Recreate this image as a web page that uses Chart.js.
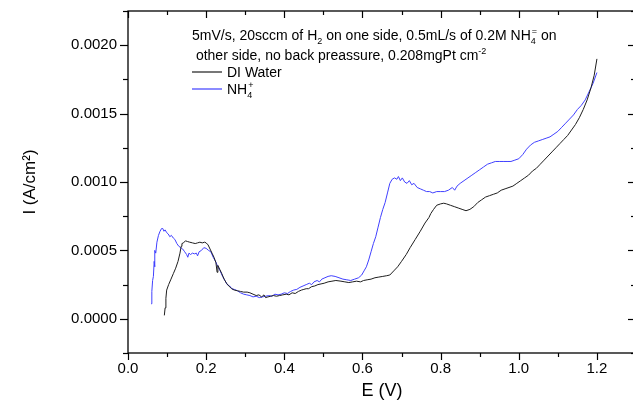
<!DOCTYPE html>
<html>
<head>
<meta charset="utf-8">
<script src="https://cdn.jsdelivr.net/npm/chart.js@4.4.0/dist/chart.umd.min.js"></script>
<style>
  html, body { margin: 0; padding: 0; background: #fff; overflow: hidden; width: 633px; height: 402px; }
  canvas { display: block; }
</style>
</head>
<body>
<canvas id="c" width="640" height="402"></canvas>
<script>
// Polarisation scans, potential E (V) vs current density I (A/cm2)
const waterE = [0.093,0.095,0.097,0.099,0.104,0.110,0.116,0.122,0.128,0.133,0.136,0.138,0.142,0.147,0.152,0.158,0.165,0.172,0.178,0.184,0.190,0.196,0.200,0.205,0.210,0.215,0.220,0.225,0.228,0.230,0.235,0.240,0.246,0.252,0.258,0.265,0.272,0.280,0.288,0.296,0.305,0.312,0.320,0.328,0.335,0.342,0.348,0.352,0.358,0.365,0.372,0.380,0.388,0.396,0.405,0.412,0.420,0.428,0.436,0.444,0.450,0.456,0.462,0.470,0.478,0.486,0.494,0.502,0.512,0.522,0.532,0.545,0.555,0.565,0.575,0.585,0.595,0.603,0.612,0.622,0.632,0.642,0.652,0.662,0.670,0.680,0.690,0.700,0.712,0.722,0.735,0.748,0.760,0.770,0.775,0.782,0.790,0.800,0.808,0.815,0.825,0.835,0.845,0.855,0.865,0.875,0.885,0.895,0.905,0.915,0.925,0.935,0.945,0.955,0.965,0.975,0.985,0.995,1.005,1.015,1.025,1.035,1.045,1.055,1.065,1.075,1.085,1.095,1.105,1.115,1.125,1.135,1.145,1.155,1.165,1.175,1.185,1.193,1.200];
const waterI = [0.000025,0.00008,0.00015,0.00021,0.00025,0.00029,0.00033,0.00037,0.00042,0.00048,0.00053,0.00055,0.000555,0.00057,0.000565,0.00056,0.000555,0.00055,0.000555,0.00056,0.000555,0.00056,0.000555,0.00054,0.00051,0.00048,0.00045,0.00041,0.00034,0.00039,0.00036,0.00033,0.00029,0.00026,0.00024,0.00022,0.00021,0.000205,0.0002,0.000195,0.000195,0.00019,0.00018,0.00017,0.000175,0.00016,0.000175,0.000155,0.00016,0.000165,0.00017,0.000165,0.00017,0.000175,0.00018,0.000175,0.00019,0.000185,0.0002,0.00021,0.000215,0.00022,0.00022,0.000235,0.00024,0.00025,0.000255,0.00026,0.00027,0.000275,0.00028,0.000275,0.00027,0.000265,0.00027,0.000275,0.00027,0.00028,0.000285,0.00029,0.0003,0.000305,0.00031,0.000315,0.00032,0.00035,0.00038,0.00042,0.00047,0.00052,0.00058,0.00064,0.0007,0.00074,0.00077,0.0008,0.00083,0.00084,0.000845,0.00084,0.00083,0.00082,0.00081,0.0008,0.00079,0.0008,0.00082,0.00085,0.00087,0.00089,0.0009,0.00091,0.00092,0.00094,0.00095,0.00096,0.00097,0.00099,0.00101,0.00103,0.00105,0.00108,0.0011,0.00113,0.00116,0.00119,0.00122,0.00125,0.00128,0.00131,0.00134,0.00138,0.00142,0.00147,0.00153,0.0016,0.00169,0.00178,0.0019];

const nh4E = [0.059,0.061,0.063,0.065,0.067,0.068,0.069,0.071,0.074,0.078,0.082,0.086,0.089,0.092,0.095,0.099,0.103,0.107,0.111,0.116,0.120,0.125,0.130,0.135,0.140,0.145,0.150,0.153,0.156,0.160,0.165,0.170,0.175,0.178,0.182,0.188,0.194,0.200,0.206,0.212,0.218,0.224,0.230,0.236,0.242,0.248,0.254,0.260,0.266,0.272,0.280,0.288,0.296,0.304,0.312,0.320,0.328,0.336,0.344,0.352,0.360,0.368,0.376,0.384,0.392,0.400,0.408,0.416,0.424,0.432,0.440,0.448,0.456,0.464,0.470,0.476,0.484,0.490,0.496,0.504,0.512,0.520,0.530,0.540,0.550,0.560,0.570,0.580,0.590,0.598,0.604,0.610,0.616,0.622,0.628,0.634,0.640,0.646,0.652,0.658,0.664,0.670,0.676,0.682,0.688,0.692,0.697,0.702,0.708,0.714,0.720,0.726,0.732,0.740,0.748,0.756,0.764,0.772,0.780,0.790,0.800,0.810,0.820,0.830,0.836,0.842,0.850,0.860,0.870,0.880,0.890,0.900,0.910,0.920,0.930,0.940,0.950,0.960,0.970,0.980,0.990,1.000,1.010,1.020,1.030,1.040,1.050,1.060,1.070,1.080,1.090,1.100,1.110,1.120,1.130,1.140,1.150,1.160,1.170,1.180,1.190,1.200];
const nh4I = [0.00011,0.0002,0.00028,0.00031,0.00042,0.00038,0.0005,0.00048,0.00056,0.00061,0.00064,0.00066,0.00066,0.00064,0.00065,0.00063,0.00062,0.0006,0.00061,0.00059,0.00058,0.00055,0.00053,0.00052,0.00051,0.00049,0.00047,0.00045,0.00048,0.00047,0.00048,0.000475,0.00048,0.00046,0.00049,0.0005,0.00052,0.000515,0.0005,0.00049,0.00045,0.00042,0.00038,0.00035,0.00031,0.00028,0.00025,0.00024,0.00022,0.000215,0.000205,0.00019,0.00018,0.000175,0.00017,0.00016,0.000165,0.000155,0.00016,0.000165,0.00017,0.000165,0.00018,0.000175,0.00018,0.00019,0.000185,0.0002,0.00021,0.000215,0.00023,0.00024,0.00025,0.00026,0.00025,0.00027,0.00028,0.00027,0.00029,0.0003,0.00031,0.000315,0.00031,0.0003,0.00029,0.000285,0.00028,0.00029,0.0003,0.00032,0.00035,0.00038,0.00043,0.00049,0.00055,0.0006,0.00067,0.00074,0.0008,0.00085,0.00092,0.00099,0.00102,0.00103,0.00102,0.00104,0.00101,0.00103,0.001,0.00099,0.00101,0.00098,0.00099,0.00096,0.00095,0.00094,0.00093,0.00093,0.00092,0.00093,0.00093,0.00093,0.00094,0.00096,0.00094,0.00097,0.00099,0.00101,0.00103,0.00105,0.00107,0.00109,0.00111,0.00113,0.00114,0.00115,0.00115,0.00115,0.00115,0.00115,0.00116,0.00117,0.0012,0.00124,0.00127,0.00129,0.0013,0.00131,0.00132,0.00133,0.00135,0.00137,0.0014,0.00143,0.00146,0.00149,0.00153,0.00156,0.0016,0.00166,0.00172,0.0018];

const seriesNames = ['DI Water', 'NH4+'];
const xTickLabels = [0, 0.2, 0.4, 0.6, 0.8, 1.0, 1.2];
const yTickLabels = [0, 0.0005, 0.001, 0.0015, 0.002];

const FONT = '"Liberation Sans", Arial, sans-serif';
const INK = '#000';
const WATER_COLOR = 'rgb(30,30,30)';
const NH4_COLOR = 'rgb(64,64,255)';

// Text with subscript / superscript runs; a run is a string or [text, mode]
// mode: 'b' subscript, 'p' superscript, 'bp' stacked [sub, 'bp', sup]
function drawRich(ctx, runs, x, y, size) {
  let cx = x;
  const small = Math.round(size * 0.62);
  ctx.textBaseline = 'alphabetic';
  ctx.textAlign = 'left';
  for (const r of runs) {
    if (typeof r === 'string') {
      ctx.font = size + 'px ' + FONT;
      ctx.fillText(r, cx, y);
      cx += ctx.measureText(r).width;
    } else if (r[1] === 'bp') {
      ctx.font = small + 'px ' + FONT;
      ctx.fillText(r[0], cx, y + size * 0.3);
      ctx.fillText(r[2], cx + 1, y - size * 0.42);
      cx += Math.max(ctx.measureText(r[0]).width, ctx.measureText(r[2]).width + 1);
    } else {
      ctx.font = small + 'px ' + FONT;
      const dy = r[1] === 'b' ? size * 0.3 : -size * 0.42;
      ctx.fillText(r[0], cx, y + dy);
      cx += ctx.measureText(r[0]).width;
    }
  }
}

// Frame, mirrored ticks, annotation and key
const framePlugin = {
  id: 'frame',
  afterDatasetsDraw(chart) {
    const { ctx, chartArea: a, scales: { x, y } } = chart;
    ctx.save();
    ctx.strokeStyle = INK;
    ctx.lineWidth = 1.3;
    ctx.strokeRect(a.left, a.top, a.right - a.left, a.bottom - a.top);
    ctx.lineWidth = 1.2;
    const seg = (x1, y1, x2, y2) => { ctx.beginPath(); ctx.moveTo(x1, y1); ctx.lineTo(x2, y2); ctx.stroke(); };
    // potential axis: major every 0.2, minor between
    for (let k = 0; k <= 13; k++) {
      const px = Math.round(x.getPixelForValue(k / 10)) + 0.5;
      const L = k % 2 === 0 ? 7 : 4;
      seg(px, a.bottom, px, a.bottom + L);
      seg(px, a.top, px, a.top + L);
    }
    // current axis: major every 0.0005, minor between
    for (let k = -1; k <= 9; k++) {
      const py = Math.round(y.getPixelForValue(k * 0.00025)) + 0.5;
      const L = k % 2 === 0 ? 8 : 5;
      seg(a.left - L, py, a.left, py);
      seg(a.right - L, py, a.right, py);
    }
    ctx.restore();

    const tx = a.left + 64;
    ctx.save();
    ctx.fillStyle = INK;
    drawRich(ctx, ['5mV/s, 20sccm of H', ['2', 'b'], ' on one side, 0.5mL/s of 0.2M NH', ['4', 'bp', '='], ' on'], tx, a.top + 29, 14);
    drawRich(ctx, [' other side, no back preassure, 0.208mgPt cm', ['-2', 'p']], tx, a.top + 49, 14);
    ctx.restore();

    const keys = [
      { color: WATER_COLOR, runs: [seriesNames[0]], y: a.top + 61 },
      { color: NH4_COLOR, runs: ['NH', ['4', 'bp', '+']], y: a.top + 78 }
    ];
    for (const k of keys) {
      ctx.save();
      ctx.fillStyle = k.color;
      ctx.fillRect(tx, k.y - 0.6, 30, 1.2);
      ctx.restore();
      ctx.save();
      ctx.fillStyle = INK;
      drawRich(ctx, k.runs, tx + 35, k.y + 5, 14);
      ctx.restore();
    }
  }
};

const toPoints = (xs, ys) => xs.map((v, i) => ({ x: v, y: ys[i] }));

new Chart(document.getElementById('c'), {
  type: 'scatter',
  data: {
    datasets: [
      { label: seriesNames[0], data: toPoints(waterE, waterI), showLine: true, borderColor: WATER_COLOR, backgroundColor: WATER_COLOR, borderWidth: 1, pointRadius: 0, tension: 0 },
      { label: seriesNames[1], data: toPoints(nh4E, nh4I), showLine: true, borderColor: NH4_COLOR, backgroundColor: NH4_COLOR, borderWidth: 1, pointRadius: 0, tension: 0 }
    ]
  },
  options: {
    responsive: false,
    animation: false,
    devicePixelRatio: 1,
    layout: { padding: { top: 11, right: 4, left: 0, bottom: 0 } },
    plugins: { legend: { display: false }, tooltip: { enabled: false } },
    scales: {
      x: {
        type: 'linear', min: 0, max: 1.3,
        afterBuildTicks: s => { s.ticks = xTickLabels.map(v => ({ value: v })); },
        afterFit: s => { s.height = 49; s.paddingLeft = 0; s.paddingRight = 0; },
        grid: { display: false, drawTicks: false },
        border: { display: false },
        ticks: { padding: 7, color: INK, font: { family: FONT, size: 15 }, maxRotation: 0, callback: v => v.toFixed(1) },
        title: { display: true, text: 'E (V)', color: INK, font: { family: FONT, size: 18 }, padding: 0 }
      },
      y: {
        type: 'linear', min: -0.00025, max: 0.00225,
        afterBuildTicks: s => { s.ticks = yTickLabels.map(v => ({ value: v })); },
        afterFit: s => { s.width = 128; s.paddingTop = 0; s.paddingBottom = 0; },
        grid: { display: false, drawTicks: false },
        border: { display: false },
        ticks: { padding: 11, color: INK, font: { family: FONT, size: 15 }, callback: v => v.toFixed(4) },
        title: { display: true, text: 'I (A/cm²)', color: INK, font: { family: FONT, size: 17 }, padding: { top: 20, bottom: 0 } }
      }
    }
  },
  plugins: [framePlugin]
});
</script>
</body>
</html>
